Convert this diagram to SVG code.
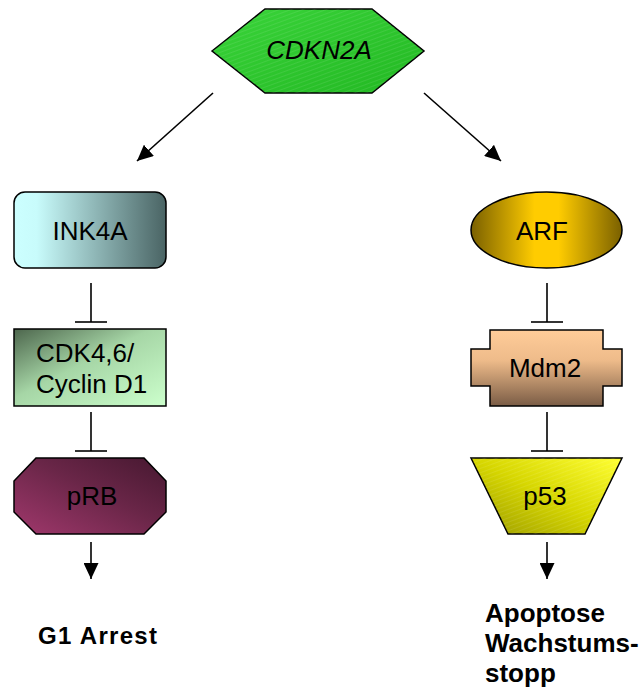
<svg xmlns="http://www.w3.org/2000/svg" width="644" height="688" viewBox="0 0 644 688">
<defs>
<style>
.shape{stroke:#000;stroke-width:1.5}
.lbl{font-family:"Liberation Sans",Arial,sans-serif;font-size:26px;fill:#000}
.out{font-family:"Liberation Sans",Arial,sans-serif;font-weight:bold;fill:#000}
.conn{stroke:#000;stroke-width:1.6;fill:none}
</style>
<linearGradient id="gGreen" x1="0" y1="0" x2="1" y2="1">
<stop offset="0" stop-color="#3ad43a"/><stop offset="1" stop-color="#22b822"/>
</linearGradient>
<pattern id="hatch" width="4" height="4" patternUnits="userSpaceOnUse" patternTransform="rotate(-20)">
<rect width="4" height="4" fill="none"/>
<line x1="0" y1="0" x2="4" y2="0" stroke="#ffffff" stroke-opacity="0.18" stroke-width="1"/>
</pattern>
<linearGradient id="gInk" x1="0" y1="0" x2="1" y2="0">
<stop offset="0" stop-color="#ccffff"/><stop offset="0.15" stop-color="#c8fbfb"/><stop offset="1" stop-color="#4a6464"/>
</linearGradient>
<linearGradient id="gCdk" x1="0" y1="0" x2="1" y2="1">
<stop offset="0" stop-color="#4d664d"/><stop offset="0.45" stop-color="#a6d6a6"/><stop offset="1" stop-color="#ccffcc"/>
</linearGradient>
<linearGradient id="gPrb" x1="0" y1="1" x2="1" y2="0">
<stop offset="0" stop-color="#a0386c"/><stop offset="0.55" stop-color="#6a2648"/><stop offset="1" stop-color="#461830"/>
</linearGradient>
<linearGradient id="gArf" x1="0" y1="0" x2="1" y2="0">
<stop offset="0" stop-color="#7a6000"/><stop offset="0.42" stop-color="#ffcc00"/><stop offset="0.58" stop-color="#ffcc00"/><stop offset="1" stop-color="#7a6000"/>
</linearGradient>
<linearGradient id="gMdm" x1="0" y1="0" x2="0" y2="1">
<stop offset="0" stop-color="#ffcc99"/><stop offset="0.4" stop-color="#eebb8a"/><stop offset="1" stop-color="#7a5c45"/>
</linearGradient>
<linearGradient id="gP53" x1="0" y1="1" x2="1" y2="0">
<stop offset="0" stop-color="#9a9a00"/><stop offset="0.5" stop-color="#d6d600"/><stop offset="1" stop-color="#ffff33"/>
</linearGradient>
<marker id="arr" markerUnits="userSpaceOnUse" markerWidth="16" markerHeight="15" refX="16" refY="7.5" orient="auto">
<path d="M0,0 L16,7.5 L0,15 z" fill="#000"/>
</marker>
</defs>
<rect width="644" height="688" fill="#fff"/>

<g id="connectors">
<line class="conn" x1="213" y1="93" x2="137" y2="161" marker-end="url(#arr)"/>
<line class="conn" x1="424" y1="93" x2="501" y2="161" marker-end="url(#arr)"/>
<line class="conn" x1="91" y1="283" x2="91" y2="322"/>
<line class="conn" x1="75" y1="322" x2="107" y2="322"/>
<line class="conn" x1="91" y1="412" x2="91" y2="451"/>
<line class="conn" x1="75" y1="451" x2="107" y2="451"/>
<line class="conn" x1="547" y1="283" x2="547" y2="322"/>
<line class="conn" x1="531" y1="322" x2="563" y2="322"/>
<line class="conn" x1="547" y1="412" x2="547" y2="451"/>
<line class="conn" x1="531" y1="451" x2="563" y2="451"/>
<line class="conn" x1="91" y1="542" x2="91" y2="579" marker-end="url(#arr)"/>
<line class="conn" x1="547" y1="542" x2="547" y2="579" marker-end="url(#arr)"/>
</g>

<g id="cdkn2a">
<polygon class="shape" points="212,51 265,9 372,9 424,51 372,93 265,93" fill="url(#gGreen)"/>
<polygon points="212,51 265,9 372,9 424,51 372,93 265,93" fill="url(#hatch)"/>
<text class="lbl" x="319" y="59" text-anchor="middle" font-style="italic">CDKN2A</text>
</g>

<g id="ink4a">
<rect class="shape" x="14" y="192" width="152" height="76" rx="11" fill="url(#gInk)"/>
<text class="lbl" x="90" y="240" text-anchor="middle">INK4A</text>
</g>

<g id="cdk46">
<rect class="shape" x="14" y="329" width="152" height="77" fill="url(#gCdk)"/>
<text class="lbl" x="36" y="362">CDK4,6/</text>
<text class="lbl" x="36" y="393">Cyclin D1</text>
</g>

<g id="prb">
<polygon class="shape" points="36,458 144,458 166,481 166,512 144,534 36,534 14,512 14,481" fill="url(#gPrb)"/>
<text class="lbl" x="92" y="505" text-anchor="middle">pRB</text>
</g>

<g id="arf">
<ellipse class="shape" cx="546.5" cy="230" rx="75.5" ry="38" fill="url(#gArf)"/>
<text class="lbl" x="542" y="240" text-anchor="middle">ARF</text>
</g>

<g id="mdm2">
<polygon class="shape" points="490,330 603,330 603,349 622,349 622,386 603,386 603,406 490,406 490,386 471,386 471,349 490,349" fill="url(#gMdm)"/>
<text class="lbl" x="545" y="377" text-anchor="middle">Mdm2</text>
</g>

<g id="p53">
<polygon class="shape" points="471,458 622,458 585,534 508,534" fill="url(#gP53)"/>
<polygon points="471,458 622,458 585,534 508,534" fill="url(#hatch)"/>
<text class="lbl" x="545" y="505" text-anchor="middle">p53</text>
</g>

<g id="g1arrest">
<text class="out" x="38" y="644" font-size="24" textLength="119" lengthAdjust="spacing">G1 Arrest</text>
</g>

<g id="apoptose">
<text class="out" x="485" y="622" font-size="26">Apoptose</text>
<text class="out" x="485" y="652" font-size="26">Wachstums-</text>
<text class="out" x="485" y="682" font-size="26">stopp</text>
</g>
</svg>
